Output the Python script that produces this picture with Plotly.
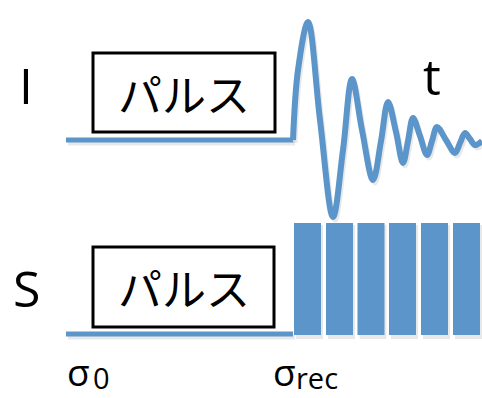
import plotly.graph_objects as go

# Diagram coordinates: x = time axis, y = vertical position (drawn top-down)
W, H = 482, 398
BLUE = "#5b95c9"
SHADOW = "rgba(0,0,0,0.09)"

# Time markers
t_start = 66        # σ0
t_rec = 293         # σrec
t_end = 482

# I channel: flat level before recovery, then damped oscillation
i_level = 140
i_wave_t = [293, 298, 308, 320, 333, 343, 352, 362, 373, 381, 388, 396, 403,
            408, 413, 420, 427, 432, 437, 446, 455, 460, 465, 470, 475, 482]
i_wave_y = [140, 70, 22, 120, 217, 150, 79, 130, 180, 141, 102, 132, 163,
            141, 118, 136, 155, 141, 127, 140, 153, 143, 133, 139, 145, 141]

# S channel: flat level, then sampling pulses after σrec
s_level = 334
s_bar_centers = [307.5, 339.5, 371, 402.5, 434.5, 466.5]
s_bar_top = 223
s_bar_width = 27

# Pulse boxes (t0, t1, top, bottom)
pulse_boxes = [(93, 275, 53, 132), (93, 274, 247, 327)]
pulse_text = "パルス"

fig = go.Figure()

# soft drop shadows
fig.add_trace(go.Scatter(x=[t + 2 for t in [t_start, t_rec]], y=[i_level + 3] * 2,
                         mode="lines", line=dict(color=SHADOW, width=5), hoverinfo="skip"))
fig.add_trace(go.Scatter(x=[t + 2 for t in i_wave_t], y=[v + 3 for v in i_wave_y],
                         mode="lines", line=dict(color=SHADOW, width=5, shape="spline", smoothing=1.0),
                         hoverinfo="skip"))
fig.add_trace(go.Scatter(x=[t + 2 for t in [t_start, t_rec]], y=[s_level + 3] * 2,
                         mode="lines", line=dict(color=SHADOW, width=5), hoverinfo="skip"))
fig.add_trace(go.Bar(x=[c + 2 for c in s_bar_centers], y=[s_level + 3 - s_bar_top] * len(s_bar_centers),
                     base=s_bar_top + 2, width=s_bar_width, marker=dict(color=SHADOW, line_width=0),
                     hoverinfo="skip"))

# I channel
fig.add_trace(go.Scatter(x=[t_start, t_rec], y=[i_level, i_level], mode="lines",
                         line=dict(color=BLUE, width=5)))
fig.add_trace(go.Scatter(x=i_wave_t, y=i_wave_y, mode="lines",
                         line=dict(color=BLUE, width=6, shape="spline", smoothing=1.0)))

# S channel
fig.add_trace(go.Scatter(x=[t_start, t_rec], y=[s_level, s_level], mode="lines",
                         line=dict(color=BLUE, width=5)))
fig.add_trace(go.Bar(x=s_bar_centers, y=[s_level + 1 - s_bar_top] * len(s_bar_centers),
                     base=s_bar_top, width=s_bar_width, marker=dict(color=BLUE, line_width=0)))

for (x0, x1, y0, y1) in pulse_boxes:
    fig.add_shape(type="rect", x0=x0, x1=x1, y0=y0, y1=y1,
                  line=dict(color="black", width=3), fillcolor="white")
    fig.add_annotation(x=(x0 + x1) / 2, y=(y0 + y1) / 2, text=pulse_text, showarrow=False,
                       font=dict(family="Noto Sans CJK JP", size=44, color="black"))

latin = "Open Sans"
labels = [("I", 26, 85, 50), ("S", 26, 288, 50), ("t", 432, 76, 50)]
for txt, x, y, s in labels:
    fig.add_annotation(x=x, y=y, text=txt, showarrow=False,
                       font=dict(family=latin, size=s, color="black"))

# time markers: symbol plus subscript
for x_sym, sub, x_sub in [(t_start, "0", t_start + 26), (t_rec - 21, "rec", t_rec + 2)]:
    fig.add_annotation(x=x_sym, y=371, text="σ", showarrow=False, xanchor="left",
                       borderpad=0, font=dict(family=latin, size=37, color="black"))
    fig.add_annotation(x=x_sub, y=H, text=sub, showarrow=False, xanchor="left", yanchor="bottom",
                       borderpad=0, font=dict(family=latin, size=29, color="black"))

fig.update_layout(
    width=W, height=H, margin=dict(l=0, r=0, t=0, b=0),
    paper_bgcolor="white", plot_bgcolor="white", showlegend=False, barmode="overlay",
    xaxis=dict(range=[0, W], visible=False, fixedrange=True),
    yaxis=dict(range=[H, 0], visible=False, fixedrange=True),
)

fig.write_html("out.html", config={"displayModeBar": False})
